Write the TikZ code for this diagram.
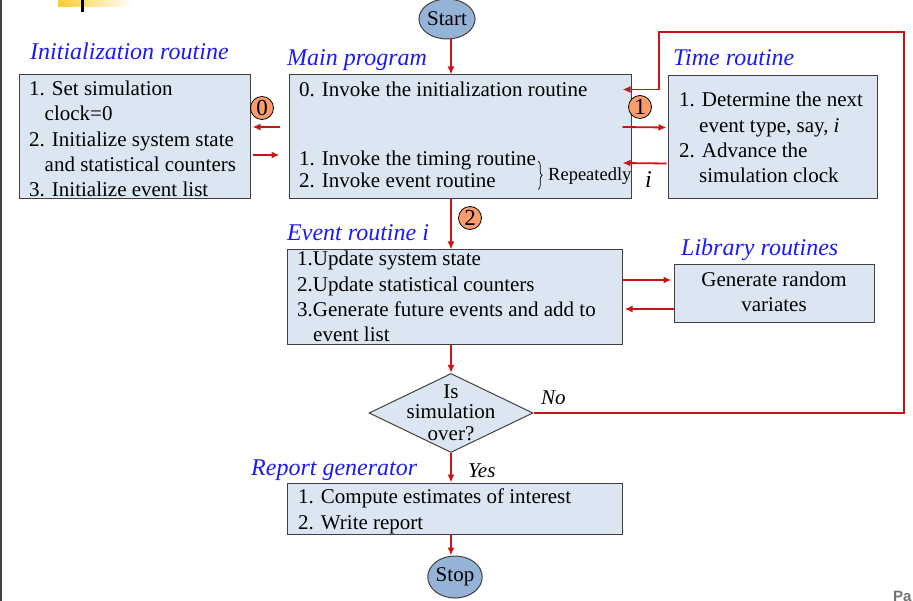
\documentclass[tikz,border=0pt]{standalone}
\usepackage{fontspec}
\setmainfont{Liberation Serif}
\newfontfamily\pagefont{Liberation Sans}
\usetikzlibrary{shapes.geometric, arrows.meta, calc, positioning, decorations.pathreplacing}

\definecolor{boxfill}{HTML}{DCE6F2}
\definecolor{boxline}{HTML}{404040}
\definecolor{termfill}{HTML}{95B3D7}
\definecolor{numfill}{HTML}{FA9C6C}
\definecolor{sigred}{HTML}{CC1414}
\definecolor{titleblue}{HTML}{1A1AF5}
\definecolor{slideyellow}{HTML}{FFCC33}

\begin{document}
\begin{tikzpicture}[
    x=1pt, y=1pt,
    >={Latex[length=8pt,width=7pt]},
    box/.style={draw=boxline, line width=1pt, fill=boxfill, rectangle, inner sep=0pt},
    term/.style={draw=boxline, line width=1pt, fill=termfill, ellipse, inner sep=0pt, font=\fontsize{21}{24}\selectfont},
    num/.style={draw=black, line width=0.8pt, fill=numfill, circle, inner sep=0pt, minimum size=23pt, font=\fontsize{23}{24}\selectfont},
    txt/.style={inner sep=0pt, anchor=base west, align=left, font=\fontsize{21}{25.4}\selectfont},
    title/.style={inner sep=0pt, anchor=base west, text=titleblue, font=\fontsize{24}{28}\selectfont\itshape},
    signal/.style={->, draw=sigred, line width=1.8pt}
]

    \useasboundingbox (0,0) rectangle (913,-601);

    % Slide decorations
    \shade[left color=slideyellow, middle color=slideyellow, right color=white] (58,0) rectangle (132,-7);
    \fill[black] (81,0) rectangle (84,-12);
    \fill[black!75] (0,0) rectangle (1.5,-601);

    % Components
    \node[box, minimum width=231, minimum height=124] (init) at (134.5,-137) {};
    \node[box, minimum width=342, minimum height=124] (main) at (460,-137) {};
    \node[box, minimum width=209, minimum height=123] (time) at (772.5,-137.5) {};
    \node[box, minimum width=335, minimum height=95] (event) at (454.5,-297.5) {};
    \node[box, minimum width=200, minimum height=58] (lib) at (774,-294) {};
    \node[box, diamond, minimum width=164, minimum height=79] (over) at (451,-413) {};
    \node[box, minimum width=335, minimum height=51] (report) at (454.5,-508.5) {};
    \node[term, minimum width=52, minimum height=40] (start) at (447,-19) {Start};
    \node[term, minimum width=52, minimum height=42] (stop) at (455,-577) {Stop};

    % Titles
    \node[title] (inittitle) at (30,-60) {Initialization routine};
    \node[title] (maintitle) at (287,-66) {Main program};
    \node[title] (timetitle) at (673,-66) {Time routine};
    \node[title] (eventtitle) at (287,-241) {Event routine i};
    \node[title] (libtitle) at (681,-256) {Library routines};
    \node[title] (reporttitle) at (251,-475) {Report generator};

    % Box texts (placed at the baseline of their last line)
    \node[txt] (inittxt) at (29,-197) {1. Set simulation\\\hspace*{15.5pt}clock=0\\2. Initialize system state\\\hspace*{15.5pt}and statistical counters\\3. Initialize event list};
    \node[txt] (maintop) at (299,-97) {0. Invoke the initialization routine};
    \node[txt, font=\fontsize{21}{22}\selectfont] (mainloop) at (299,-188) {1. Invoke the timing routine\\2. Invoke event routine};
    \node[txt] (timetxt) at (679,-183) {1. Determine the next\\\hspace*{20pt}event type, say, \textit{i}\\2. Advance the\\\hspace*{20pt}simulation clock};
    \node[txt] (eventtxt) at (297,-342) {1.Update system state\\2.Update statistical counters\\3.Generate future events and add to\\\hspace*{16pt}event list};
    \node[txt, align=center, anchor=base] (libtxt) at (774,-312) {Generate random\\variates};
    \node[txt] (reporttxt) at (298,-529) {1. Compute estimates of interest\\2. Write report};
    \node[txt, align=center, anchor=base, font=\fontsize{21}{21}\selectfont] (overtxt) at (451,-440) {Is\\simulation\\over?};

    % Repeated part
    \draw[decorate, decoration={brace, amplitude=4pt}, line width=0.7pt]
        ([shift={(2,-10)}]mainloop.north east) -- ([shift={(2,-1)}]mainloop.south east);
    \node[txt, font=\fontsize{18.5}{20}\selectfont] (repeat) at (548,-181) {Repeatedly};

    % Step numbers
    \node[num] (n0) at (262,-108) {0};
    \node[num] (n1) at (640,-107) {1};
    \node[num] (n2) at (470,-218) {2};

    % Main flow
    \draw[signal] (start.south -| over) -- (main.north -| over);
    \draw[signal] (main.south -| over) -- (event.north -| over);
    \draw[signal] (event.south -| over) -- (over.north);
    \draw[signal] (over.south) -- (report.north -| over);
    \draw[signal] (report.south -| over) -- (stop.north -| over);
    \node[txt, font=\fontsize{21}{24}\selectfont\itshape] (yes) at (468,-477) {Yes};

    % Calls from main program
    \draw[signal] ([shift={(-9,10)}]main.west) -- ([shift={(2,10)}]init.east);
    \draw[signal] ([shift={(2,-18)}]init.east) -- ([shift={(-9,-18)}]main.west);
    \draw[signal] ([shift={(-9,10)}]main.east) -- ([shift={(-1,10)}]time.west);
    \draw[signal] ([shift={(-1,-26)}]time.west) -- ([shift={(-9,-26)}]main.east);
    \node[txt, font=\fontsize{24}{24}\selectfont\itshape] (isel) at (645,-188) {i};

    % Library calls
    \coordinate (libin) at ([yshift=14]lib.west);
    \coordinate (libout) at ([yshift=-15]lib.west);
    \draw[signal] (libin -| event.east) -- ([xshift=-2]libin);
    \draw[signal] (libout) -- ([xshift=2]libout -| event.east);

    % Loop back when not over
    \coordinate (loopcorner) at (904,-32);
    \draw[signal] (over.east) -| (loopcorner) -- ++(-245,0) |- ([shift={(-9,-15)}]main.north east);
    \node[txt, font=\fontsize{21}{24}\selectfont\itshape] (no) at (541,-405) {No};

    % Page mark
    \node[anchor=base west, inner sep=0pt, text=black!55, font=\pagefont\bfseries\fontsize{15}{15}\selectfont] (pagelbl) at (893,-601) {Pa};

\end{tikzpicture}
\end{document}
